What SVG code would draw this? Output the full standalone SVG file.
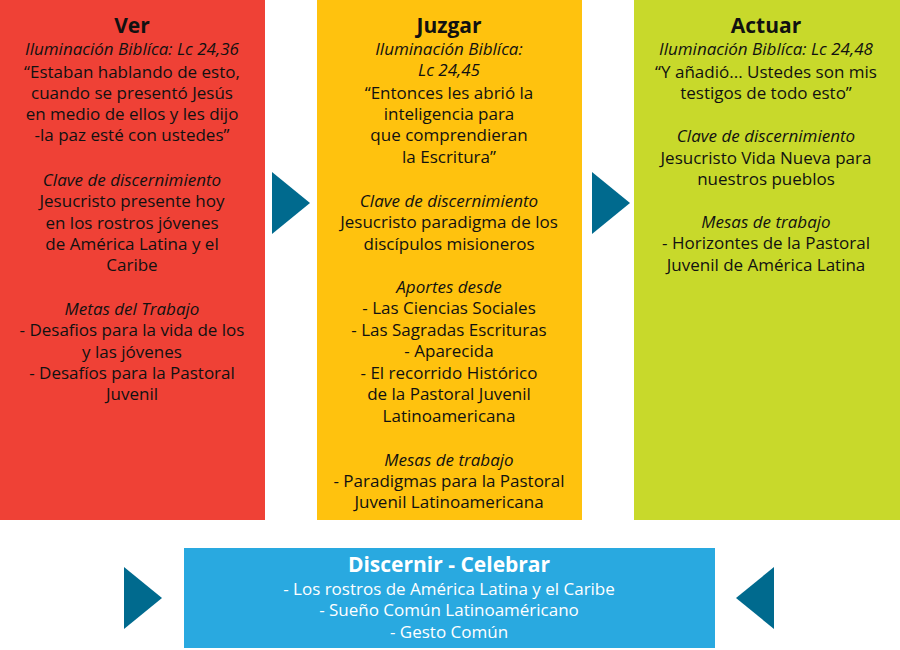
<svg xmlns="http://www.w3.org/2000/svg" width="900" height="650" viewBox="0 0 900 650">
<style>
text{font-family:"Open Sans","Liberation Sans",sans-serif;font-size:17px;text-anchor:middle;fill:#111}
.t{font-size:21px;font-weight:bold}
.i{font-style:italic}
.w{fill:#fff}
.a{fill:#006A8E}
</style>
<rect width="900" height="650" fill="#fff"/>
<g id="ver">
<rect x="0" y="0" width="265" height="520" fill="#EF4136"/>
<text x="132" y="33" class="t">Ver</text>
<text x="132" y="55" class="i">Iluminación Biblíca: Lc 24,36</text>
<text x="132" y="78">“Estaban hablando de esto,</text>
<text x="132" y="99">cuando se presentó Jesús</text>
<text x="132" y="120">en medio de ellos y les dijo</text>
<text x="132" y="141">-la paz esté con ustedes”</text>
<text x="132" y="186" class="i">Clave de discernimiento</text>
<text x="132" y="207">Jesucristo presente hoy</text>
<text x="132" y="229">en los rostros jóvenes</text>
<text x="132" y="250">de América Latina y el</text>
<text x="132" y="271">Caribe</text>
<text x="132" y="315" class="i">Metas del Trabajo</text>
<text x="132" y="336">- Desafios para la vida de los</text>
<text x="132" y="358">y las jóvenes</text>
<text x="132" y="379">- Desafíos para la Pastoral</text>
<text x="132" y="400">Juvenil</text>
</g>
<g id="juzgar">
<rect x="317" y="0" width="265" height="520" fill="#FFC20E"/>
<text x="449" y="33" class="t">Juzgar</text>
<text x="449" y="55" class="i">Iluminación Biblíca:</text>
<text x="449" y="76" class="i">Lc 24,45</text>
<text x="449" y="99">“Entonces les abrió la</text>
<text x="449" y="120">inteligencia para</text>
<text x="449" y="141">que comprendieran</text>
<text x="449" y="163">la Escritura”</text>
<text x="449" y="207" class="i">Clave de discernimiento</text>
<text x="449" y="228">Jesucristo paradigma de los</text>
<text x="449" y="250">discípulos misioneros</text>
<text x="449" y="293" class="i">Aportes desde</text>
<text x="449" y="314">- Las Ciencias Sociales</text>
<text x="449" y="336">- Las Sagradas Escrituras</text>
<text x="449" y="357">- Aparecida</text>
<text x="449" y="379">- El recorrido Histórico</text>
<text x="449" y="400">de la Pastoral Juvenil</text>
<text x="449" y="422">Latinoamericana</text>
<text x="449" y="466" class="i">Mesas de trabajo</text>
<text x="449" y="487">- Paradigmas para la Pastoral</text>
<text x="449" y="508">Juvenil Latinoamericana</text>
</g>
<g id="actuar">
<rect x="634" y="0" width="266" height="520" fill="#C8D92B"/>
<text x="766" y="33" class="t">Actuar</text>
<text x="766" y="55" class="i">Iluminación Biblíca: Lc 24,48</text>
<text x="766" y="78">“Y añadió... Ustedes son mis</text>
<text x="766" y="99">testigos de todo esto”</text>
<text x="766" y="142" class="i">Clave de discernimiento</text>
<text x="766" y="164">Jesucristo Vida Nueva para</text>
<text x="766" y="185">nuestros pueblos</text>
<text x="766" y="228" class="i">Mesas de trabajo</text>
<text x="766" y="249">- Horizontes de la Pastoral</text>
<text x="766" y="271">Juvenil de América Latina</text>
</g>
<g id="discernir">
<rect x="184" y="548" width="531" height="100" fill="#29A9E0"/>
<text x="449" y="572" class="t w">Discernir - Celebrar</text>
<text x="449" y="595" class="w">- Los rostros de América Latina y el Caribe</text>
<text x="449" y="616" class="w">- Sueño Común Latinoaméricano</text>
<text x="449" y="638" class="w">- Gesto Común</text>
</g>
<g id="connectors">
<polygon class="a" points="272,172 310,203 272,234"/>
<polygon class="a" points="592,172 630,203 592,234"/>
<polygon class="a" points="124,567 162,598 124,629"/>
<polygon class="a" points="774,567 736,598 774,629"/>
</g>
</svg>
